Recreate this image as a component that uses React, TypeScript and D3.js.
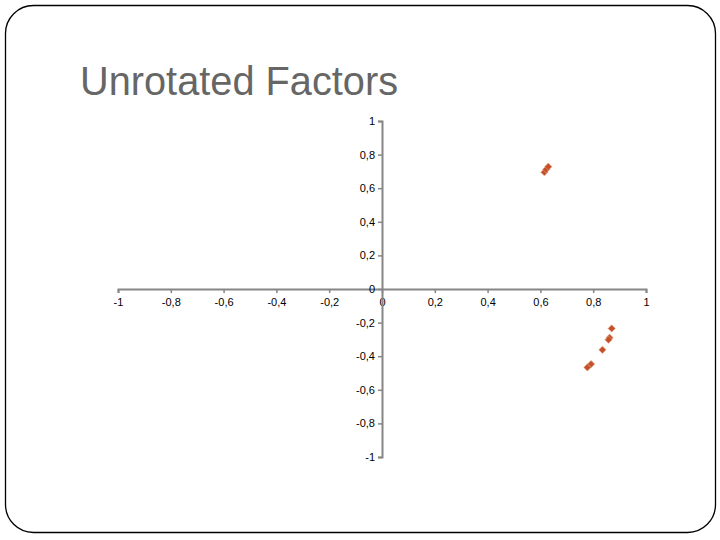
import React, { useEffect, useRef } from "react";
import * as d3 from "d3";

const titleText = "Unrotated Factors";
const factor1 = [0.615, 0.622, 0.63, 0.87, 0.862, 0.858, 0.835, 0.792, 0.778];
const factor2 = [0.695, 0.712, 0.728, -0.235, -0.29, -0.302, -0.362, -0.447, -0.467];
const tickValues = [-1, -0.8, -0.6, -0.4, -0.2, 0, 0.2, 0.4, 0.6, 0.8, 1];

const W = 720;
const H = 540;

export default function App() {
  const ref = useRef<SVGSVGElement | null>(null);

  useEffect(() => {
    const svg = d3.select(ref.current);
    svg.selectAll("*").remove();

    svg
      .append("rect")
      .attr("x", 5.5)
      .attr("y", 5.5)
      .attr("width", 710)
      .attr("height", 527)
      .attr("rx", 28)
      .attr("ry", 28)
      .attr("fill", "white")
      .attr("stroke", "#000")
      .attr("stroke-width", 1.3);

    svg
      .append("text")
      .attr("x", 80)
      .attr("y", 95)
      .attr("font-family", "Arial, 'Liberation Sans', sans-serif")
      .attr("font-size", 41)
      .attr("fill", "#666666")
      .attr("textLength", 318)
      .attr("lengthAdjust", "spacingAndGlyphs")
      .text(titleText);

    const x = d3.scaleLinear().domain([-1, 1]).range([118, 646]);
    const y = d3.scaleLinear().domain([-1, 1]).range([457, 121]);
    const fmt = (d: d3.NumberValue) => String(+d).replace(".", ",");

    const xAxis = d3.axisBottom(x).tickValues(tickValues).tickSize(4).tickPadding(5).tickFormat(fmt).tickSizeOuter(4);
    const yAxis = d3.axisLeft(y).tickValues(tickValues).tickSize(4).tickPadding(3).tickFormat(fmt).tickSizeOuter(4);

    const styleAxis = (g: any) => {
      g.select(".domain").attr("stroke", "#868686").attr("stroke-width", 2);
      g.selectAll(".tick line").attr("stroke", "#868686").attr("stroke-width", 1.5);
      g.selectAll(".tick text")
        .attr("fill", "#000")
        .attr("font-family", "Arial, 'Liberation Sans', sans-serif")
        .attr("font-size", 11);
    };

    const gx = svg.append("g").attr("transform", `translate(0,${y(0)})`).call(xAxis);
    styleAxis(gx);
    const gy = svg.append("g").attr("transform", `translate(${x(0)},0)`).call(yAxis);
    styleAxis(gy);

    const sym = d3.symbol().type(d3.symbolSquare).size(26);
    svg
      .append("g")
      .selectAll("path")
      .data(factor1.map((v, i) => [v, factor2[i]]))
      .join("path")
      .attr("d", sym as any)
      .attr("transform", (d) => `translate(${x(d[0])},${y(d[1])}) rotate(45)`)
      .attr("fill", "#C4502A")
      .attr("stroke", "#E8A080")
      .attr("stroke-width", 0.6);
  }, []);

  return (
    <svg
      ref={ref}
      width={W}
      height={H}
      style={{ position: "absolute", left: 0, top: 0, background: "white" }}
    />
  );
}
